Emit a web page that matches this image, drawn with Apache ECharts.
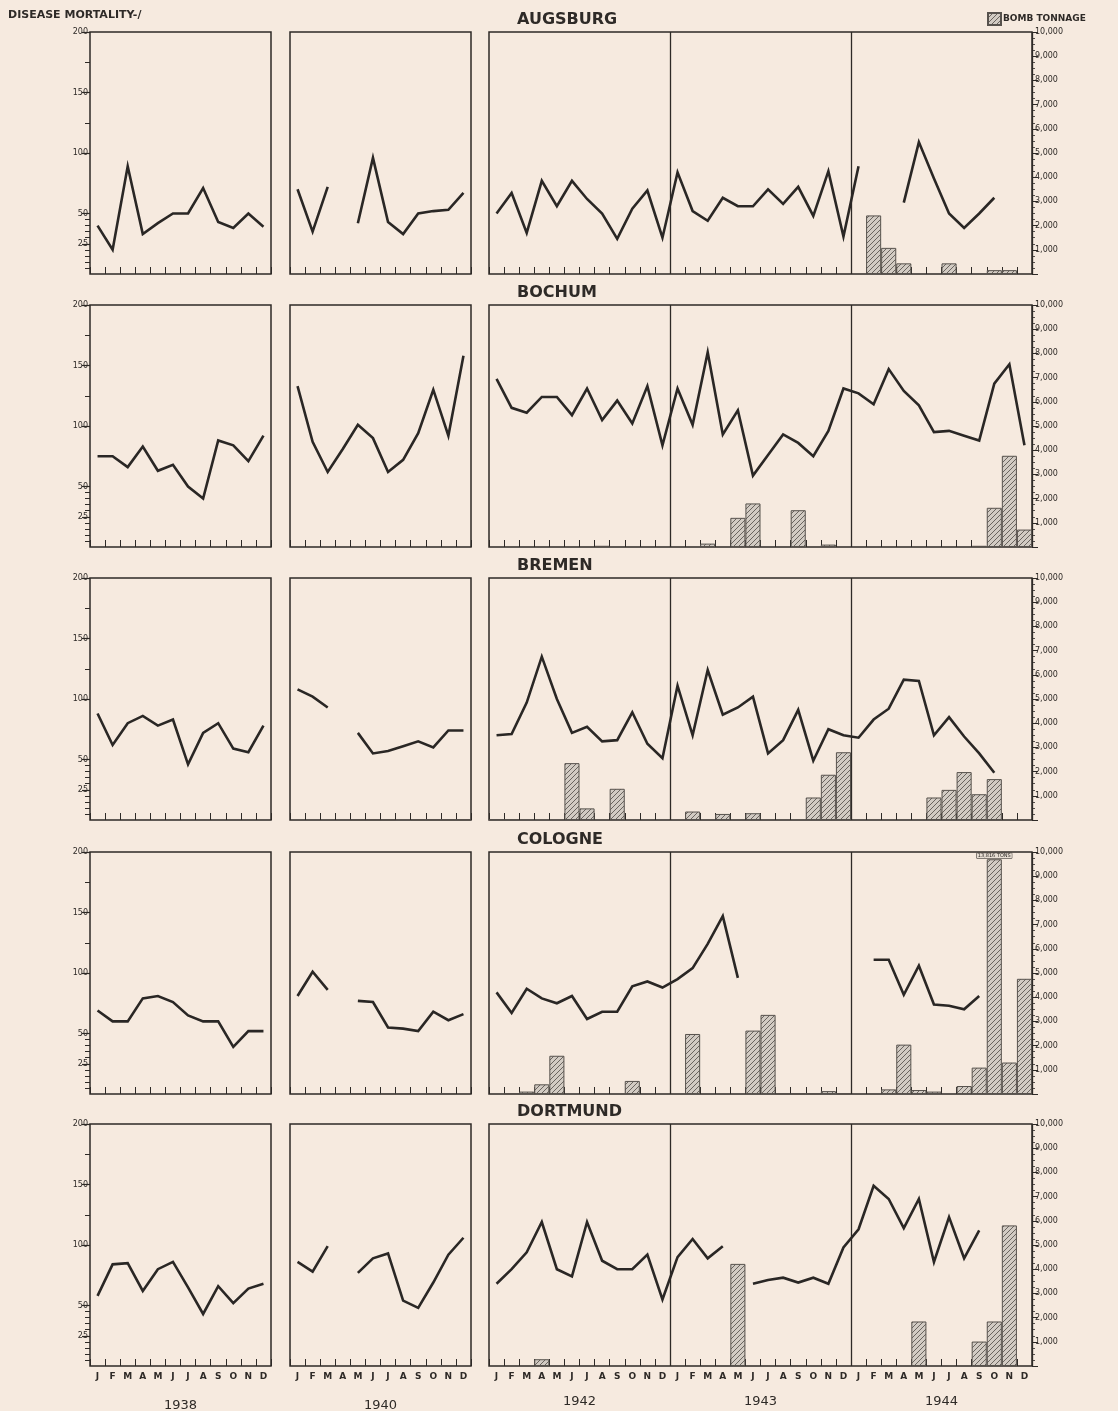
<!DOCTYPE html>
<html>
<head>
<meta charset="utf-8">
<script src="https://cdn.jsdelivr.net/npm/echarts@6/dist/echarts.min.js"></script>
<style>
  html, body { margin: 0; background: #f6eadf; }
  #chart { width: 1118px; height: 1411px; }
</style>
</head>
<body>
<div id="chart"></div>
<script>
// month letters and year labels
const MONTHS = ['J', 'F', 'M', 'A', 'M', 'J', 'J', 'A', 'S', 'O', 'N', 'D'];
const WAR_YEARS = ['1942', '1943', '1944'];
const MORT_TICKS = [25, 50, 100, 150, 200];
const MORT_MINOR = [5, 10, 15, 20, 30, 35, 40, 45, 125, 175];

// disease mortality (left scale) and bomb tonnage (right scale)
const augsburgMort38 = [40, 20, 89, 33, 42, 50, 50, 71, 43, 38, 50, 39];
const augsburgMort40 = [70, 35, 72, null, 42, 96, 43, 33, 50, 52, 53, 67];
const augsburgMort42 = [50, 67, 34, 77, 56, 77, 62, 50, 29, 54, 69, 30,
                        84, 52, 44, 63, 56, 56, 70, 58, 72, 48, 85, 31,
                        89, null, null, 59, 109, 79, 50, 38, 50, 63, null, null];
const augsburgBomb40 = [0, 0, 0, 0, 0, 0, 0, 0, 0, 0, 0, 0];
const augsburgBomb42 = [0, 0, 0, 30, 0, 0, 0, 0, 0, 0, 0, 0,
                        0, 0, 0, 0, 0, 0, 0, 0, 0, 0, 0, 0,
                        0, 2420, 1080, 440, 0, 0, 440, 0, 0, 160, 160, 0];

const bochumMort38 = [75, 75, 66, 83, 63, 68, 50, 40, 88, 84, 71, 92];
const bochumMort40 = [133, 87, 62, 81, 101, 90, 62, 72, 94, 130, 92, 158];
const bochumMort42 = [139, 115, 111, 124, 124, 109, 131, 105, 121, 102, 133, 84,
                      131, 101, 161, 93, 113, 59, 76, 93, 86, 75, 96, 131,
                      127, 118, 147, 129, 117, 95, 96, 92, 88, 135, 151, 84];
const bochumBomb40 = [0, 0, 0, 0, 0, 0, 0, 0, 0, 0, 0, 0];
const bochumBomb42 = [0, 0, 0, 0, 0, 0, 0, 50, 0, 0, 0, 0,
                      0, 0, 140, 0, 1205, 1800, 0, 0, 1520, 0, 100, 0,
                      0, 0, 0, 0, 0, 0, 0, 0, 50, 1620, 3770, 720];

const bremenMort38 = [88, 62, 80, 86, 78, 83, 46, 72, 80, 59, 56, 78];
const bremenMort40 = [108, 102, 93, null, 72, 55, 57, 61, 65, 60, 74, 74];
const bremenMort42 = [70, 71, 97, 135, 100, 72, 77, 65, 66, 89, 63, 51,
                      111, 70, 124, 87, 93, 102, 55, 66, 91, 49, 75, 70,
                      68, 83, 92, 116, 115, 70, 85, 69, 55, 39, null, null];
const bremenBomb40 = [0, 0, 0, 0, 30, 30, 30, 0, 30, 30, 30, 30];
const bremenBomb42 = [40, 40, 0, 0, 0, 2350, 480, 0, 1290, 0, 0, 0,
                      0, 350, 0, 250, 0, 280, 0, 0, 0, 930, 1870, 2800,
                      0, 0, 0, 0, 0, 930, 1245, 1980, 1065, 1690, 0, 0];

const cologneMort38 = [69, 60, 60, 79, 81, 76, 65, 60, 60, 39, 52, 52];
const cologneMort40 = [81, 101, 86, null, 77, 76, 55, 54, 52, 68, 61, 66];
const cologneMort42 = [84, 67, 87, 79, 75, 81, 62, 68, 68, 89, 93, 88,
                       95, 104, 124, 147, 96, null, null, null, null, null, null, null,
                       null, 111, 111, 82, 106, 74, 73, 70, 81, null, null, null];
const cologneBomb40 = [0, 0, 0, 0, 30, 30, 30, 30, 0, 30, 30, 0];
const cologneBomb42 = [0, 30, 100, 400, 1580, 0, 0, 0, 0, 540, 0, 0,
                       0, 2480, 0, 0, 0, 2620, 3270, 30, 30, 30, 120, 30,
                       0, 0, 190, 2040, 165, 100, 0, 330, 1090, 9700, 1300, 4760];
const cologneNote = { index: 33, text: '13,816 TONS' };

const dortmundMort38 = [58, 84, 85, 62, 80, 86, 65, 43, 66, 52, 64, 68];
const dortmundMort40 = [86, 78, 99, null, 77, 89, 93, 54, 48, 69, 92, 106];
const dortmundMort42 = [68, 80, 94, 119, 80, 74, 119, 87, 80, 80, 92, 55,
                        90, 105, 89, 99, null, 68, 71, 73, 69, 73, 68, 98,
                        113, 149, 138, 114, 138, 86, 123, 89, 112, null, null, null];
const dortmundBomb40 = [0, 0, 0, 0, 30, 30, 30, 30, 30, 0, 30, 0];
const dortmundBomb42 = [0, 0, 0, 280, 0, 0, 0, 0, 0, 0, 0, 0,
                        0, 0, 0, 0, 4220, 0, 0, 0, 30, 0, 0, 0,
                        0, 0, 30, 0, 1840, 0, 0, 0, 1010, 1840, 5810, 0];

const ROWS = [
  { name: 'AUGSBURG', mort: [augsburgMort38, augsburgMort40, augsburgMort42], bomb: [null, augsburgBomb40, augsburgBomb42] },
  { name: 'BOCHUM',   mort: [bochumMort38, bochumMort40, bochumMort42],       bomb: [null, bochumBomb40, bochumBomb42] },
  { name: 'BREMEN',   mort: [bremenMort38, bremenMort40, bremenMort42],       bomb: [null, bremenBomb40, bremenBomb42] },
  { name: 'COLOGNE',  mort: [cologneMort38, cologneMort40, cologneMort42],    bomb: [null, cologneBomb40, cologneBomb42], note: cologneNote },
  { name: 'DORTMUND', mort: [dortmundMort38, dortmundMort40, dortmundMort42], bomb: [null, dortmundBomb40, dortmundBomb42] }
];

const cats38 = MONTHS.map((m, i) => '1938-' + i);
const cats40 = MONTHS.map((m, i) => '1940-' + i);
const cats42 = [];
WAR_YEARS.forEach(y => MONTHS.forEach((m, i) => cats42.push(y + '-' + i)));
const CATS = [cats38, cats40, cats42];
const PANEL_YEAR = ['1938', '1940', null];

// layout
const INK = '#2e2a27';
const FONT = '"DejaVu Sans", sans-serif';
const ROW_TOP = [32, 305, 578, 852, 1124];
const ROW_H = 242;
const PANELS = [{ left: 90, width: 181 }, { left: 290, width: 181 }, { left: 489, width: 543 }];

function hatch() {
  const c = document.createElement('canvas');
  c.width = 5; c.height = 5;
  const g = c.getContext('2d');
  g.fillStyle = '#d2cbc3';
  g.fillRect(0, 0, 5, 5);
  g.strokeStyle = '#6a645f';
  g.lineWidth = 1;
  g.beginPath();
  g.moveTo(0, 5); g.lineTo(5, 0);
  g.moveTo(-1, 1); g.lineTo(1, -1);
  g.moveTo(4, 6); g.lineTo(6, 4);
  g.stroke();
  return { image: c, repeat: 'repeat' };
}
const HATCH = hatch();

const grid = [], xAxis = [], yAxis = [], series = [];
const title = [{
  text: 'DISEASE MORTALITY-/', left: 8, top: 10, padding: 0,
  textStyle: { fontSize: 11, fontWeight: 'bold', color: INK, fontFamily: FONT }
}];

ROWS.forEach((row, r) => {
  const top = ROW_TOP[r];
  const last = r === ROWS.length - 1;
  title.push({
    text: row.name, left: 517, top: top - 20, padding: 0,
    textStyle: { fontSize: 16, fontWeight: 'bold', color: INK, fontFamily: FONT }
  });

  PANELS.forEach((pn, p) => {
    const gi = grid.length;
    grid.push({
      left: pn.left, top: top, width: pn.width, height: ROW_H,
      show: true, borderColor: INK, borderWidth: 1.5, backgroundColor: 'transparent',
      outerBoundsMode: 'none'
    });
    const xi = xAxis.length;
    xAxis.push({
      gridIndex: gi, type: 'category', data: CATS[p], boundaryGap: true,
      axisLine: { show: false },
      axisTick: { show: true, inside: true, length: 7, interval: 0, lineStyle: { color: INK, width: 1 } },
      axisLabel: {
        show: last, interval: 0, margin: 6, fontSize: 9, fontWeight: 'bold', color: INK, fontFamily: FONT,
        formatter: v => MONTHS[+v.split('-')[1]]
      },
      splitLine: p === 2
        ? { show: true, interval: (i) => i === 12 || i === 24, lineStyle: { color: INK, width: 1.3 } }
        : { show: false },
      name: last && PANEL_YEAR[p] ? PANEL_YEAR[p] : '',
      nameLocation: 'middle', nameGap: 33,
      nameTextStyle: { fontSize: 13, color: INK, fontFamily: FONT }
    });
    const ym = yAxis.length;
    yAxis.push({
      gridIndex: gi, type: 'value', min: 0, max: 200, position: 'left', show: p === 0,
      axisLine: { show: false }, splitLine: { show: false },
      axisTick: { show: true, length: 8, customValues: MORT_TICKS, lineStyle: { color: INK, width: 1.2 } },
      axisLabel: { customValues: MORT_TICKS, fontSize: 8, margin: 2, color: INK, fontFamily: FONT }
    });
    const yb = yAxis.length;
    yAxis.push({
      gridIndex: gi, type: 'value', min: 0, max: 10000, interval: 1000, position: 'right', show: p === 2,
      axisLine: { show: false }, splitLine: { show: false },
      axisTick: { show: true, length: 6, lineStyle: { color: INK, width: 1 } },
      minorTick: { show: true, splitNumber: 4, length: 3, lineStyle: { color: INK, width: 0.8 } },
      axisLabel: {
        fontSize: 8, margin: 3, color: INK, fontFamily: FONT,
        formatter: v => v === 0 ? '' : v.toLocaleString('en-US')
      }
    });

    const bombs = row.bomb[p];
    if (bombs) {
      series.push({
        name: 'BOMB TONNAGE', type: 'bar', xAxisIndex: xi, yAxisIndex: yb,
        barCategoryGap: '0%', barGap: '0%', z: 2, silent: true,
        itemStyle: { color: HATCH, borderColor: '#57524d', borderWidth: 1 },
        data: bombs.map((v, i) => {
          if (!v) return null;
          if (row.note && p === 2 && i === row.note.index) {
            return {
              value: v,
              label: {
                show: true, position: 'top', distance: 1, formatter: row.note.text,
                fontSize: 5, color: INK, fontFamily: FONT,
                backgroundColor: '#e6ddd3', borderColor: INK, borderWidth: 0.5, padding: [0, 1]
              }
            };
          }
          return v;
        })
      });
    }
    series.push({
      name: row.name + ' ' + p, type: 'line', xAxisIndex: xi, yAxisIndex: ym,
      data: row.mort[p], symbol: 'none', connectNulls: false, z: 4, silent: true,
      lineStyle: { color: '#2a2725', width: 2.6, join: 'miter' }
    });
  });

  // overlay grid: the short ticks of the mortality scale
  const go = grid.length;
  grid.push({ left: PANELS[0].left, top: top, width: PANELS[0].width, height: ROW_H, show: false, outerBoundsMode: 'none' });
  xAxis.push({ gridIndex: go, type: 'value', show: false });
  yAxis.push({
    gridIndex: go, type: 'value', min: 0, max: 200, position: 'left',
    axisLine: { show: false }, splitLine: { show: false }, axisLabel: { show: false },
    axisTick: { show: true, length: 5, customValues: MORT_MINOR, lineStyle: { color: INK, width: 1 } }
  });

  // year labels under the 1942-44 panel
  if (last) {
    const gy = grid.length;
    grid.push({ left: PANELS[2].left, top: top, width: PANELS[2].width, height: ROW_H, show: false, outerBoundsMode: 'none' });
    xAxis.push({
      gridIndex: gy, type: 'category', data: WAR_YEARS, position: 'bottom',
      axisLine: { show: false }, axisTick: { show: false },
      axisLabel: { margin: 29, fontSize: 13, color: INK, fontFamily: FONT }
    });
    yAxis.push({ gridIndex: gy, type: 'value', show: false });
  }
});

const chart = echarts.init(document.getElementById('chart'));
chart.setOption({
  backgroundColor: '#f6eadf',
  animation: false,
  title: title,
  legend: {
    data: ['BOMB TONNAGE'], left: 982, top: 7, icon: 'rect',
    itemWidth: 13, itemHeight: 12, itemGap: 4, selectedMode: false,
    textStyle: { fontSize: 9, fontWeight: 'bold', color: INK, fontFamily: FONT, padding: [0, 0, 0, -3] }
  },
  grid: grid,
  xAxis: xAxis,
  yAxis: yAxis,
  series: series
});
</script>
</body>
</html>
